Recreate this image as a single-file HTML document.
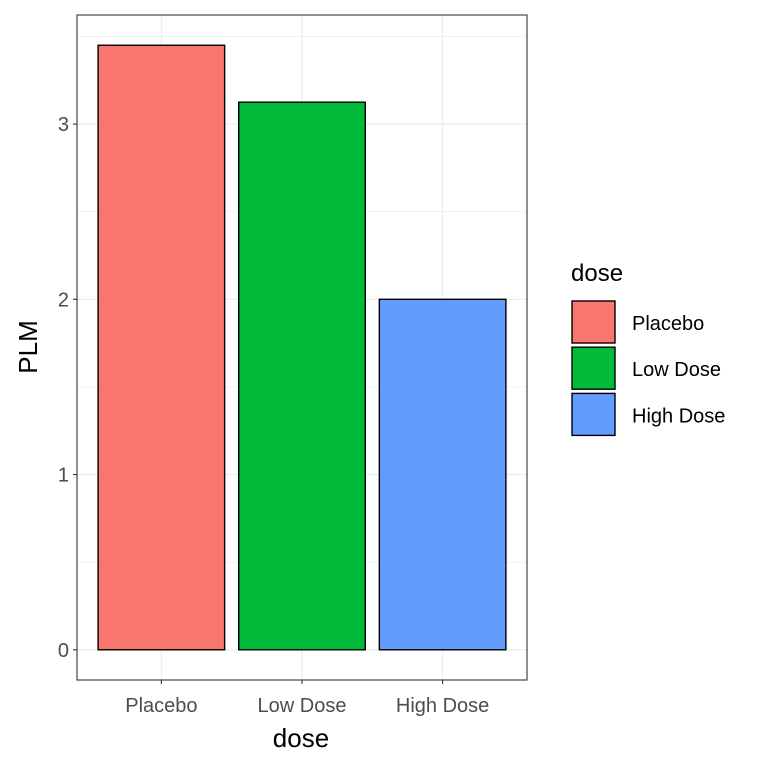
<!DOCTYPE html>
<html><head><meta charset="utf-8"><style>
html,body{margin:0;padding:0;background:#fff;}
svg{display:block;font-family:"Liberation Sans",Arial,sans-serif;}
</style></head><body>
<svg id="chart" width="768" height="768" viewBox="0 0 768 768">
<rect x="0" y="0" width="768" height="768" fill="#fff"/>
<g id="grid"></g>
<g id="bars"></g>
<rect x="77" y="15" width="450" height="665" fill="none" stroke="#333" stroke-width="1.1"/>
<g id="axes"></g>
<text x="301" y="747" font-size="26" text-anchor="middle" fill="#000">dose</text>
<text x="0" y="0" font-size="26" text-anchor="middle" fill="#000" transform="translate(37,347) rotate(-90)">PLM</text>
<g id="legend">
<text x="571" y="281" font-size="24" fill="#000">dose</text>
</g>
</svg>
<script>
const categories = ["Placebo", "Low Dose", "High Dose"];
const values = [3.45, 3.125, 2.0];
const colors = ["#F8766D", "#00BA38", "#619CFF"];
const yTicks = [0, 1, 2, 3];
const yMinor = [0.5, 1.5, 2.5, 3.5];

const NS = "http://www.w3.org/2000/svg";
const px0 = 77, px1 = 527, py0 = 680, py1 = 15;
const xMin = 0.4, xMax = categories.length + 0.6;
const maxV = Math.max(...values);
const yLo = -0.05 * maxV, yHi = maxV * 1.05;
function xs(v){ return px0 + (v - xMin) / (xMax - xMin) * (px1 - px0); }
function ys(v){ return py0 - (v - yLo) / (yHi - yLo) * (py0 - py1); }
function mk(tag, attrs, parent){ const e = document.createElementNS(NS, tag); for (const k in attrs) e.setAttribute(k, attrs[k]); parent.appendChild(e); return e; }

const grid = document.getElementById("grid");
yMinor.forEach(v => {
  const l = mk("line", {x1:px0, x2:px1, y1:ys(v), y2:ys(v), stroke:"#ebebeb", "stroke-width":0.6}, grid);
  
  
});
yTicks.forEach(v => {
  const l = mk("line", {x1:px0, x2:px1, y1:ys(v), y2:ys(v), stroke:"#ebebeb", "stroke-width":1.1}, grid);
  
  
});
categories.forEach((c, i) => {
  const l = mk("line", {x1:xs(i+1), x2:xs(i+1), y1:py0, y2:py1, stroke:"#ebebeb", "stroke-width":1.1}, grid);
  
  
});

const bars = document.getElementById("bars");
const bw = 0.9 * (xs(2) - xs(1));
values.forEach((v, i) => {
  const cx = xs(i+1);
  const r = mk("rect", {x:cx - bw/2, y:ys(v), width:bw, height:ys(0) - ys(v), fill:colors[i], stroke:"#000", "stroke-width":1.4}, bars);
  
  
});

const axes = document.getElementById("axes");
yTicks.forEach(v => {
  const t = mk("line", {x1:px0-4, x2:px0, y1:ys(v), y2:ys(v), stroke:"#333", "stroke-width":1.1}, axes);
  
  
  const tx = mk("text", {x:px0-8, y:ys(v)+7, "font-size":20, "text-anchor":"end", fill:"#4d4d4d"}, axes);
  tx.textContent = v;
  
  
});
categories.forEach((c, i) => {
  const t = mk("line", {x1:xs(i+1), x2:xs(i+1), y1:py0, y2:py0+4, stroke:"#333", "stroke-width":1.1}, axes);
  
  
  const tx = mk("text", {x:xs(i+1), y:py0+32, "font-size":20, "text-anchor":"middle", fill:"#4d4d4d"}, axes);
  tx.textContent = c;
  
  
});

const legend = document.getElementById("legend");
categories.forEach((c, i) => {
  const y = 301 + i * 46.2;
  const k = mk("rect", {x:572, y:y, width:43, height:42, fill:colors[i], stroke:"#000", "stroke-width":1.4}, legend);
  
  
  const tx = mk("text", {x:632, y:y+29, "font-size":20, fill:"#000"}, legend);
  tx.textContent = c;
  
  
});
</script>
</body></html>
